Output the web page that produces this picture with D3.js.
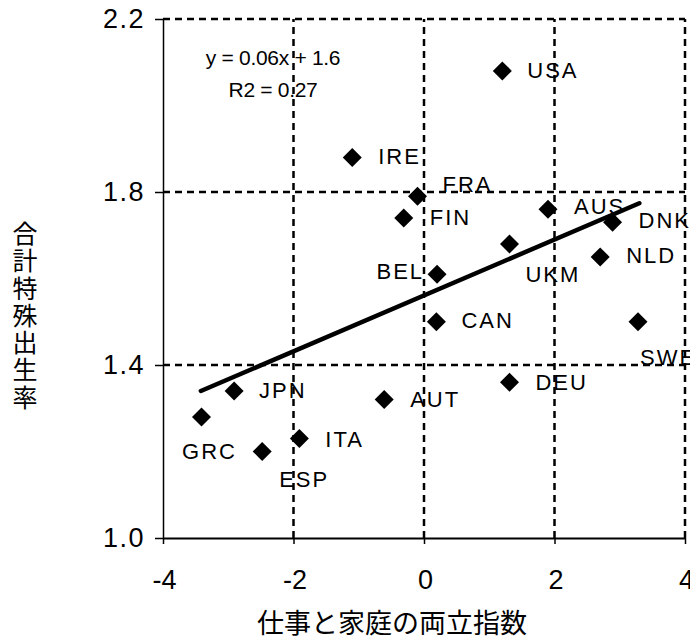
<!DOCTYPE html>
<html>
<head>
<meta charset="utf-8">
<script src="https://cdn.jsdelivr.net/npm/d3@7"></script>
<style>
    body { margin: 0; background: #fff; }
    svg { display: block; }
    text { font-family: "Liberation Sans", Arial, sans-serif; fill: #000; }
    .jp { font-family: "Noto Sans CJK JP", sans-serif; }
</style>
</head>
<body>
<div id="chart"></div>
<script>
// countries and values
const countries = ["USA", "IRE", "FRA", "FIN", "AUS", "DNK", "UKM", "NLD", "BEL", "CAN", "SWE", "DEU", "AUT", "JPN", "GRC", "ITA", "ESP"]
const balanceIndex = [1.20, -1.10, -0.10, -0.31, 1.90, 2.89, 1.31, 2.70, 0.20, 0.19, 3.28, 1.31, -0.61, -2.91, -3.41, -1.91, -2.48]
const fertility = [2.08, 1.88, 1.79, 1.74, 1.76, 1.73, 1.68, 1.65, 1.61, 1.50, 1.50, 1.36, 1.32, 1.34, 1.28, 1.23, 1.20]

// regression line end points as drawn
const trendX = [-3.42, 3.30]
const trendY = [1.34, 1.774]

const xTicks = [-4, -2, 0, 2, 4]
const yTicks = [1.0, 1.4, 1.8, 2.2]
const equation = ["y = 0.06x + 1.6", "R2 = 0.27"]
const xLabel = "仕事と家庭の両立指数"
const yLabel = "合計特殊出生率"

// where each country label sits relative to its marker [dx, dy, anchor]
const labelPos = {
    USA: [25, 7, "start"], IRE: [26, 7, "start"], FRA: [25, -4, "start"],
    FIN: [26, 7, "start"], AUS: [26, 5, "start"], DNK: [26, 6, "start"],
    UKM: [16, 38, "start"], NLD: [26, 6, "start"], BEL: [-13, 5, "end"],
    CAN: [25, 6, "start"], SWE: [2, 43, "start"], DEU: [26, 8, "start"],
    AUT: [26, 7, "start"], JPN: [25, 7, "start"], GRC: [8, 42, "middle"],
    ITA: [26, 8, "start"], ESP: [42, 35, "middle"]
}

const width = 690, height = 643
const margin = { top: 19, right: 5, bottom: 105, left: 163 }

const svg = d3.select("#chart").append("svg")
    .attr("width", width)
    .attr("height", height)

const x = d3.scaleLinear().domain([-4, 4]).range([margin.left, width - margin.right])
const y = d3.scaleLinear().domain([1.0, 2.2]).range([height - margin.bottom, margin.top])

// dashed grid (also makes the top and right frame)
svg.append("g")
    .selectAll("line")
    .data(xTicks.slice(1))
    .join("line")
    .attr("x1", d => x(d)).attr("x2", d => x(d))
    .attr("y1", y(1.0)).attr("y2", y(2.2))
    .attr("stroke", "#000")
    .attr("stroke-width", 2.5)
    .attr("stroke-dasharray", "7,5")

svg.append("g")
    .selectAll("line")
    .data(yTicks.slice(1))
    .join("line")
    .attr("x1", x(-4)).attr("x2", x(4))
    .attr("y1", d => y(d)).attr("y2", d => y(d))
    .attr("stroke", "#000")
    .attr("stroke-width", 2.5)
    .attr("stroke-dasharray", "7,5")

// axes (plain hyphen for negatives, as in the original)
const xAxis = svg.append("g")
    .attr("transform", `translate(0,${y(1.0)})`)
    .call(d3.axisBottom(x).tickValues(xTicks).tickSize(6).tickSizeOuter(0).tickPadding(26).tickFormat(d => String(d)))
xAxis.select(".domain").attr("stroke-width", 2)
xAxis.selectAll(".tick line").attr("stroke-width", 1.5)
xAxis.selectAll("text")
    .style("font-size", "27px")
    .attr("dx", 1)

const yAxis = svg.append("g")
    .attr("transform", `translate(${x(-4)},0)`)
    .call(d3.axisLeft(y).tickValues(yTicks).tickSize(8).tickSizeOuter(0).tickPadding(10).tickFormat(d3.format(".1f")))
yAxis.select(".domain").attr("stroke-width", 1.5)
yAxis.selectAll(".tick line").attr("stroke-width", 1.5)
yAxis.selectAll("text")
    .style("font-size", "27px")
    .style("letter-spacing", "1.5px")
svg.selectAll(".tick text").attr("fill", "#000").attr("font-family", null)

// trend line
svg.append("line")
    .attr("x1", x(trendX[0])).attr("y1", y(trendY[0]))
    .attr("x2", x(trendX[1])).attr("y2", y(trendY[1]))
    .attr("stroke", "#000")
    .attr("stroke-width", 4.5)
    .attr("stroke-linecap", "round")

// diamonds
const r = 9.5
svg.append("g")
    .selectAll("path")
    .data(d3.range(countries.length))
    .join("path")
    .attr("d", `M0,${-r}L${r},0L0,${r}L${-r},0Z`)
    .attr("transform", i => `translate(${x(balanceIndex[i])},${y(fertility[i])})`)
    .attr("fill", "#000")

// country labels
svg.append("g")
    .selectAll("text")
    .data(d3.range(countries.length))
    .join("text")
    .attr("x", i => x(balanceIndex[i]) + labelPos[countries[i]][0])
    .attr("y", i => y(fertility[i]) + labelPos[countries[i]][1])
    .attr("text-anchor", i => labelPos[countries[i]][2])
    .style("font-size", "22px")
    .style("letter-spacing", "2px")
    .text(i => countries[i])

// regression equation
svg.append("g")
    .selectAll("text")
    .data(equation)
    .join("text")
    .attr("x", 273)
    .attr("y", (d, i) => 65 + i * 32)
    .attr("text-anchor", "middle")
    .style("font-size", "21px")
    .style("letter-spacing", "-0.3px")
    .text(d => d)

// axis titles
svg.append("text")
    .attr("class", "jp")
    .attr("x", 392)
    .attr("y", 633)
    .attr("text-anchor", "middle")
    .style("font-size", "27px")
    .text(xLabel)

svg.append("text")
    .attr("class", "jp")
    .attr("x", 25)
    .attr("y", 221)
    .style("writing-mode", "vertical-rl")
    .style("font-size", "25px")
    .style("letter-spacing", "2.3px")
    .text(yLabel)
</script>
</body>
</html>
